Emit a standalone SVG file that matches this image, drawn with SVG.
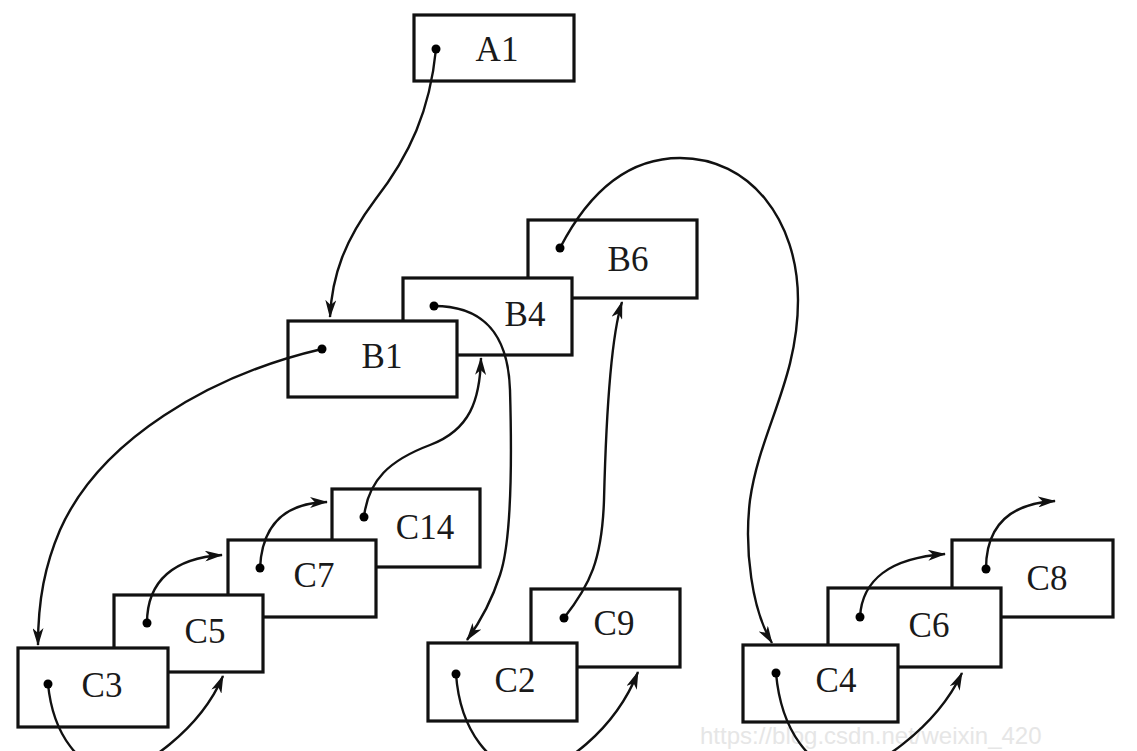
<svg xmlns="http://www.w3.org/2000/svg" width="1137" height="751" viewBox="0 0 1137 751">
<style>
.box{fill:#fff;stroke:#111;stroke-width:3.2}
.lbl{font-family:"Liberation Serif","Times New Roman",serif;font-size:35px;fill:#1a1a1a;text-anchor:middle}
.dot{fill:#000}
.wire{fill:none;stroke:#111;stroke-width:2.4;marker-end:url(#arr)}
.wm{font-family:"Liberation Sans",Arial,sans-serif;font-size:24px;fill:#e6e6e6}
</style>
<defs>
<marker id="arr" viewBox="0 0 18 11" refX="17" refY="5.5" markerWidth="18" markerHeight="11" markerUnits="userSpaceOnUse" orient="auto">
<path d="M0,0 L18,5.5 L0,11 L5,5.5 Z" fill="#111"/>
</marker>
</defs>
<rect width="1137" height="751" fill="#fff"/>
<text class="wm" x="700" y="744">https://blog.csdn.net/weixin_420</text>
<g id="A1"><rect class="box" x="414" y="15" width="160" height="66"/><text class="lbl" x="497" y="61">A1</text></g>
<g id="B6"><rect class="box" x="528" y="220" width="169" height="78"/><text class="lbl" x="628" y="271">B6</text></g>
<g id="B4"><rect class="box" x="403" y="278" width="169" height="77"/><text class="lbl" x="525" y="326">B4</text></g>
<g id="B1"><rect class="box" x="288" y="321" width="169" height="76"/><text class="lbl" x="382" y="368">B1</text></g>
<g id="C14"><rect class="box" x="332" y="489" width="148" height="78"/><text class="lbl" x="425" y="539">C14</text></g>
<g id="C7"><rect class="box" x="228" y="540" width="148" height="77"/><text class="lbl" x="314" y="587">C7</text></g>
<g id="C5"><rect class="box" x="114" y="595" width="149" height="77"/><text class="lbl" x="205" y="643">C5</text></g>
<g id="C3"><rect class="box" x="18" y="648" width="150" height="79"/><text class="lbl" x="102" y="697">C3</text></g>
<g id="C9"><rect class="box" x="531" y="589" width="149" height="78"/><text class="lbl" x="614" y="635">C9</text></g>
<g id="C2"><rect class="box" x="428" y="643" width="149" height="78"/><text class="lbl" x="515" y="692">C2</text></g>
<g id="C8"><rect class="box" x="952" y="540" width="161" height="77"/><text class="lbl" x="1047" y="590">C8</text></g>
<g id="C6"><rect class="box" x="828" y="588" width="173" height="79"/><text class="lbl" x="929" y="637">C6</text></g>
<g id="C4"><rect class="box" x="743" y="645" width="155" height="77"/><text class="lbl" x="836" y="692">C4</text></g>
<g id="connectors">
<path class="wire" d="M436,49 C430,110 410,155 375,200 C345,240 332,275 330,317"/>
<path class="wire" d="M322,349 C210,375 100,440 60,530 C45,565 38,600 38,645"/>
<path class="wire" d="M434,306 C480,306 508,330 510,390 C512,460 512,540 500,575 C492,600 480,622 467,640"/>
<path class="wire" d="M560,248 C590,190 630,158 680,158 C750,158 798,220 798,300 C798,380 760,430 750,500 C744,550 752,610 772,643"/>
<path class="wire" d="M364,517 C368,480 390,460 430,445 C470,430 480,400 481,358"/>
<path class="wire" d="M564,618 C590,585 602,560 604,500 C606,420 610,340 622,302"/>
<path class="wire" d="M260,568 C262,525 285,503 327,502"/>
<path class="wire" d="M147,623 C147,580 175,558 222,555"/>
<path class="wire" d="M48,684 C53,735 80,770 115,772 C140,772 200,730 223,676"/>
<path class="wire" d="M456,674 C460,730 490,770 530,772 C560,772 615,730 638,672"/>
<path class="wire" d="M776,673 C781,730 810,770 848,772 C870,772 935,730 962,673"/>
<path class="wire" d="M860,617 C862,580 890,558 945,554"/>
<path class="wire" d="M986,569 C986,530 1005,504 1055,501"/>
<g class="dot">
<circle cx="436" cy="49" r="4.5"/><circle cx="322" cy="349" r="4.5"/><circle cx="434" cy="306" r="4.5"/><circle cx="560" cy="248" r="4.5"/>
<circle cx="364" cy="517" r="4.5"/><circle cx="564" cy="618" r="4.5"/><circle cx="260" cy="568" r="4.5"/><circle cx="147" cy="623" r="4.5"/>
<circle cx="48" cy="684" r="4.5"/><circle cx="456" cy="674" r="4.5"/><circle cx="776" cy="673" r="4.5"/><circle cx="860" cy="617" r="4.5"/><circle cx="986" cy="569" r="4.5"/>
</g>
</g>
</svg>
